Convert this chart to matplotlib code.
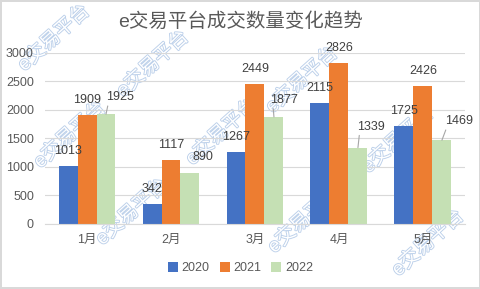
import matplotlib
matplotlib.use('Agg')
import matplotlib.pyplot as plt
import matplotlib.patheffects as pe
import numpy as np

plt.rcParams['font.family'] = ['Liberation Sans', 'Noto Sans CJK SC', 'DejaVu Sans']

# Data
months = ['1月', '2月', '3月', '4月', '5月']
series_names = ['2020', '2021', '2022']
v2020 = [1013, 342, 1267, 2115, 1725]
v2021 = [1909, 1117, 2449, 2826, 2426]
v2022 = [1925, 890, 1877, 1339, 1469]
colors = ['#4472c4', '#ed7d31', '#c5e0b4']

# label offsets (pixels) for the 2022 labels that sit off to the side
offsets_2022 = [(14, 17, True), (13, 16, False), (10, 17, True), (13, 21, True), (17, 19, True)]

fig = plt.figure(figsize=(4.81, 2.89), dpi=100)
fig.patch.set_edgecolor('#d9d9d9')
fig.patch.set_linewidth(1.5)
ax = fig.add_axes([0.0936, 0.225, 0.873, 0.592])

x = np.arange(len(months))
w = 0.226
bars = []
for i, vals in enumerate([v2020, v2021, v2022]):
    b = ax.bar(x + (i - 1) * w, vals, w, color=colors[i], label=series_names[i], zorder=2)
    bars.append(b)

# data labels
for i, vals in enumerate([v2020, v2021, v2022]):
    for j, v in enumerate(vals):
        bx = x[j] + (i - 1) * w
        if i == 2:
            dx, dy, line = offsets_2022[j]
        else:
            dx, dy, line = 0, 15, False
        kw = {}
        if line:
            kw['arrowprops'] = dict(arrowstyle='-', color='#a6a6a6', lw=0.8,
                                    shrinkA=0, shrinkB=0, relpos=(0.1, 0.2))
        ax.annotate(str(v), xy=(bx, v), xytext=(dx, dy), textcoords='offset pixels',
                    ha='center', va='center', fontsize=9, color='#404040', zorder=3, **kw)

ax.set_xlim(-0.5, 4.5)
ax.set_ylim(0, 3000)
ax.set_yticks(range(0, 3001, 500))
ax.set_xticks(x)
ax.set_xticklabels(months)
ax.grid(axis='y', color='#d9d9d9', lw=0.8)
ax.set_axisbelow(True)
for s in ['top', 'right', 'left']:
    ax.spines[s].set_visible(False)
ax.spines['bottom'].set_color('#d9d9d9')
ax.tick_params(length=0, labelsize=9, colors='#595959', pad=7)
ax.tick_params(axis='y', pad=8)

fig.text(0.5, 0.925, 'e交易平台成交数量变化趋势', ha='center', va='center',
         fontsize=14, color='#595959')

fig.legend(handles=bars, labels=series_names, loc='center', bbox_to_anchor=(0.5, 0.072),
           ncol=3, frameon=False, fontsize=9, handlelength=0.8, handleheight=0.8,
           handletextpad=0.3, columnspacing=0.8, labelcolor='#595959')

# watermark, drawn under the bars
marks = [(54, 38), (153, 64), (70, 135), (132, 212), (222, 132),
         (302, 80), (398, 140), (304, 220), (428, 243)]
for px, py in marks:
    ax.text(px / 481, 1 - py / 289, 'e交易平台', transform=fig.transFigure,
            ha='center', va='center', rotation=42, fontsize=14, color='white',
            zorder=0.3, clip_on=False,
            path_effects=[pe.Stroke(linewidth=1.3, foreground='#bcd0ea'), pe.Normal()])

fig.savefig('out.png', dpi=100)
